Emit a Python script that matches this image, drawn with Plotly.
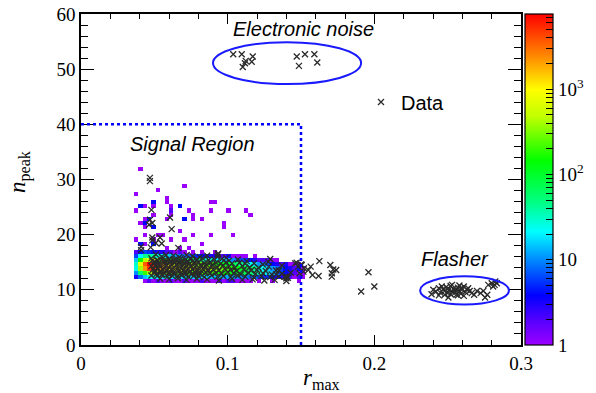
import numpy as np
import plotly.graph_objects as go

# ---------------- axes / binning ----------------
X_RANGE = [0, 0.3]
Y_RANGE = [0, 60]
X_TICKS = [0, 0.1, 0.2, 0.3]
X_TICKTEXT = ["0", "0.1", "0.2", "0.3"]
Y_TICKS = [0, 10, 20, 30, 40, 50, 60]
X_BIN = 0.003
Y_BIN = 0.75
COUNT_MAX = 7600

# ---------------- 2D histogram (signal-region band) ----------------
BAND_X0 = 0.036   # lower edge of first listed x bin
BAND_ROW_Y = [11.25, 12.0, 12.75, 13.5, 14.25, 15.0, 15.75, 16.5]
BAND_ROWS = [
    [0, 0, 1, 2, 1, 2, 1, 1, 2, 1, 1, 2, 1, 1, 1, 2, 1, 1, 1, 2, 1, 1, 2, 1, 1, 1, 1, 0, 1, 0, 0, 1, 0, 0, 0, 0, 0, 1, 0],
    [3, 8, 15, 25, 25, 22, 20, 20, 18, 18, 18, 17, 17, 16, 16, 15, 15, 14, 14, 13, 12, 12, 11, 10, 10, 9, 8, 7, 6, 5, 5, 4, 3, 3, 2, 2, 1, 1, 1],
    [10, 60, 200, 400, 420, 380, 340, 300, 280, 260, 250, 240, 230, 220, 210, 200, 190, 180, 170, 160, 150, 140, 120, 100, 85, 70, 55, 42, 32, 24, 18, 13, 9, 6, 4, 3, 2, 1, 1],
    [25, 400, 2200, 5000, 4500, 2800, 2000, 1500, 1200, 1000, 900, 800, 700, 620, 560, 500, 450, 400, 350, 300, 260, 220, 180, 140, 110, 85, 60, 42, 30, 22, 16, 11, 8, 6, 4, 3, 2, 2, 1],
    [30, 700, 3500, 7500, 6000, 3200, 1900, 1300, 950, 750, 600, 500, 420, 360, 310, 270, 230, 200, 170, 140, 115, 95, 75, 58, 44, 32, 23, 16, 11, 8, 6, 4, 3, 2, 2, 1, 1, 1, 0],
    [15, 150, 450, 650, 500, 320, 230, 170, 140, 110, 90, 75, 62, 52, 44, 37, 31, 26, 22, 18, 15, 12, 10, 8, 6, 5, 4, 3, 2, 2, 1, 1, 1, 0, 0, 0, 0, 0, 0],
    [6, 20, 45, 50, 40, 28, 22, 17, 14, 11, 9, 8, 7, 6, 5, 4, 4, 3, 3, 2, 2, 2, 1, 1, 1, 1, 0, 1, 0, 0, 0, 0, 0, 0, 0, 0, 0, 0, 0],
    [2, 4, 6, 5, 4, 3, 3, 2, 2, 1, 2, 1, 0, 1, 0, 1, 0, 0, 1, 0, 0, 0, 0, 0, 0, 0, 0, 0, 0, 0, 0, 0, 0, 0, 0, 0, 0, 0, 0],
]

# isolated histogram cells above / around the band
CELL_X = [0.041, 0.071, 0.037, 0.053, 0.059, 0.059, 0.040, 0.044, 0.050, 0.050,
          0.062, 0.062, 0.068, 0.073, 0.090, 0.093, 0.088, 0.101, 0.113, 0.116,
          0.037, 0.042, 0.047, 0.049, 0.058, 0.063, 0.071, 0.076, 0.076, 0.083,
          0.098, 0.040, 0.043, 0.048, 0.045, 0.068, 0.076, 0.104, 0.096, 0.056,
          0.044, 0.038, 0.050, 0.053, 0.063, 0.071, 0.089, 0.041, 0.048, 0.044,
          0.0595, 0.066, 0.082, 0.073, 0.1005, 0.1275, 0.138, 0.148, 0.149, 0.100]
CELL_Y = [31.6, 29.2, 27.5, 28.0, 26.8, 26.2, 25.1, 25.0, 25.7, 24.9,
          25.4, 24.5, 25.1, 24.3, 25.6, 25.6, 24.3, 24.3, 24.3, 23.6,
          24.3, 23.1, 23.0, 23.6, 22.5, 23.6, 22.7, 23.6, 23.0, 22.5,
          21.9, 22.0, 22.0, 21.4, 21.2, 20.8, 20.1, 20.2, 21.6, 20.1,
          19.9, 19.0, 19.0, 19.6, 19.0, 19.0, 19.5, 18.1, 18.1, 18.6,
          17.7, 17.7, 18.7, 17.3, 16.0, 15.2, 14.9, 14.2, 12.4, 11.7]
CELL_N = [1, 1, 1, 1, 1, 1, 4, 1, 4, 1,
          1, 2, 4, 1, 1, 1, 1, 1, 1, 1,
          1, 1, 4, 1, 1, 1, 4, 1, 1, 1,
          1, 1, 4, 4, 1, 1, 1, 1, 1, 1,
          1, 1, 1, 1, 1, 1, 1, 4, 4, 1,
          1, 1, 1, 1, 1, 1, 1, 2, 1, 1]

# ---------------- data points (x markers) ----------------
NOISE_X = [0.1038, 0.1096, 0.1171, 0.1123, 0.1164, 0.1118, 0.1103, 0.1471, 0.1527, 0.1591, 0.1611, 0.1486]
NOISE_Y = [52.7, 52.7, 52.3, 51.5, 51.35, 51.06, 50.4, 52.3, 52.7, 52.7, 51.2, 50.6]

OUTLIER_X = [0.047, 0.047, 0.048, 0.0607, 0.0618, 0.047, 0.0464, 0.0486, 0.0486, 0.0486,
             0.0539, 0.055, 0.041, 0.0475, 0.051, 0.0663, 0.041, 0.0932, 0.0936]
OUTLIER_Y = [30.3, 29.7, 24.5, 23.1, 21.0, 22.7, 21.8, 22.1, 19.5, 19.0,
             19.5, 18.4, 17.8, 17.7, 18.5, 17.6, 17.2, 16.4, 16.6]

BAND_PX = [
    0.051, 0.055, 0.058, 0.063, 0.067, 0.072, 0.076, 0.081, 0.086, 0.093, 0.099,
    0.048, 0.052, 0.056, 0.060, 0.064, 0.068, 0.071, 0.075, 0.079, 0.083, 0.087, 0.091, 0.096, 0.101, 0.107, 0.113,
    0.050, 0.053, 0.057, 0.061, 0.064, 0.067, 0.070, 0.073, 0.077, 0.080, 0.084, 0.088, 0.092, 0.095, 0.099, 0.103, 0.108, 0.112, 0.118, 0.124,
    0.048, 0.051, 0.054, 0.058, 0.061, 0.065, 0.069, 0.072, 0.075, 0.078, 0.082, 0.085, 0.089, 0.093, 0.097, 0.101, 0.105, 0.110, 0.115, 0.121, 0.128,
    0.049, 0.052, 0.056, 0.059, 0.062, 0.066, 0.070, 0.073, 0.076, 0.080, 0.083, 0.087, 0.090, 0.094, 0.098, 0.102, 0.106, 0.111, 0.116, 0.120, 0.126, 0.133,
    0.050, 0.054, 0.057, 0.060, 0.063, 0.067, 0.071, 0.074, 0.078, 0.081, 0.085, 0.088, 0.092, 0.096, 0.100, 0.104, 0.109, 0.114, 0.119, 0.124, 0.130, 0.137,
    0.048, 0.052, 0.055, 0.059, 0.062, 0.066, 0.069, 0.073, 0.077, 0.080, 0.084, 0.089, 0.093, 0.097, 0.102, 0.107, 0.112, 0.118, 0.123, 0.129, 0.135, 0.141,
    0.054, 0.060, 0.066, 0.072, 0.079, 0.086, 0.094, 0.103, 0.110, 0.117, 0.125, 0.132, 0.140,
    0.0495, 0.0535, 0.0575, 0.0615, 0.0655, 0.0695, 0.0735, 0.0775, 0.0815, 0.0855, 0.0895,
    0.0505, 0.0545, 0.0585, 0.0625, 0.0665, 0.0705, 0.0745, 0.0785, 0.0825, 0.0865,
    0.0485, 0.0525, 0.0565, 0.0605, 0.0645, 0.0685, 0.0725, 0.0765,
    0.0515, 0.0555, 0.0595, 0.0635, 0.0675, 0.0715, 0.0755, 0.0795,
]
BAND_PY = [
    16.4, 16.0, 16.3, 16.2, 15.9, 16.3, 16.1, 15.9, 16.2, 16.0, 15.8,
    15.7, 15.4, 15.8, 15.6, 15.5, 15.7, 15.4, 15.6, 15.5, 15.7, 15.4, 15.5, 15.6, 15.3, 15.5, 15.2,
    15.1, 14.8, 15.0, 15.1, 14.9, 15.0, 14.8, 15.1, 14.9, 15.0, 14.8, 15.0, 14.9, 14.7, 15.0, 14.8, 14.9, 14.7, 14.8, 14.6,
    14.3, 14.5, 14.2, 14.4, 14.3, 14.5, 14.2, 14.4, 14.3, 14.1, 14.4, 14.2, 14.3, 14.1, 14.4, 14.2, 14.0, 14.3, 14.1, 14.0, 14.2,
    13.7, 13.9, 13.6, 13.8, 13.7, 13.9, 13.6, 13.8, 13.7, 13.5, 13.8, 13.6, 13.7, 13.5, 13.8, 13.6, 13.4, 13.7, 13.5, 13.6, 13.4, 13.5,
    13.1, 13.3, 13.0, 13.2, 13.1, 13.3, 13.0, 13.2, 13.1, 12.9, 13.2, 13.0, 13.1, 12.9, 13.2, 13.0, 12.8, 13.1, 12.9, 13.0, 12.8, 12.9,
    12.6, 12.5, 12.7, 12.4, 12.6, 12.5, 12.7, 12.4, 12.6, 12.5, 12.3, 12.6, 12.4, 12.5, 12.3, 12.6, 12.4, 12.2, 12.5, 12.3, 12.4, 12.2,
    12.0, 11.9, 12.1, 11.8, 12.0, 11.9, 11.7, 12.0, 11.8, 11.9, 11.7, 11.8, 11.6,
    14.7, 14.6, 14.7, 14.6, 14.7, 14.5, 14.6, 14.7, 14.5, 14.6, 14.5,
    13.5, 13.4, 13.5, 13.4, 13.5, 13.3, 13.4, 13.5, 13.3, 13.4,
    15.3, 15.2, 15.3, 15.2, 15.3, 15.1, 15.2, 15.3,
    12.9, 12.8, 12.9, 12.8, 12.9, 12.7, 12.8, 12.9,
]

TAIL_X = [0.129, 0.1277, 0.146, 0.150, 0.148, 0.139, 0.140, 0.152, 0.149, 0.147,
          0.1505, 0.1516, 0.155, 0.1566, 0.1578, 0.162, 0.1625, 0.170, 0.172, 0.174,
          0.171, 0.171, 0.196, 0.200, 0.191, 0.140, 0.135, 0.143, 0.137, 0.133]
TAIL_Y = [15.6, 15.1, 14.8, 14.6, 14.2, 12.4, 12.1, 13.9, 13.0, 14.9,
          14.5, 13.3, 13.6, 14.2, 12.7, 12.5, 15.2, 14.5, 13.7, 13.6,
          13.0, 12.4, 13.2, 10.6, 9.7, 12.4, 13.5, 13.1, 14.4, 12.8]

FLASH_X = [0.2402, 0.239, 0.242, 0.244, 0.245, 0.247, 0.248, 0.249, 0.250, 0.251,
           0.252, 0.253, 0.254, 0.255, 0.256, 0.257, 0.258, 0.259, 0.260, 0.261,
           0.262, 0.263, 0.246, 0.250, 0.253, 0.255, 0.257, 0.259, 0.248, 0.252,
           0.2505, 0.256, 0.261, 0.265, 0.2664, 0.270, 0.2725, 0.2743, 0.2755, 0.277,
           0.2777, 0.280, 0.282, 0.2835, 0.281, 0.2825, 0.244, 0.258, 0.264, 0.268]
FLASH_Y = [10.0, 9.2, 9.7, 10.3, 9.5, 10.1, 9.8, 10.5, 9.4, 10.0,
           10.7, 9.7, 10.2, 9.5, 10.0, 10.4, 9.8, 9.3, 10.1, 10.6,
           9.6, 10.0, 10.6, 10.2, 10.9, 9.9, 9.0, 10.3, 9.1, 9.2,
           8.6, 9.1, 8.9, 9.8, 9.4, 9.8, 9.4, 9.8, 8.6, 9.1,
           10.9, 11.2, 10.9, 11.2, 10.6, 11.5, 9.0, 10.8, 10.3, 9.1]

# ---------------- region markings ----------------
SIGNAL_XMAX = 0.15
SIGNAL_YMAX = 40
ELLIPSE_CX = [0.1405, 0.2615]
ELLIPSE_CY = [51.1, 9.9]
ELLIPSE_RX = [0.0505, 0.0303]
ELLIPSE_RY = [3.8, 2.55]
LABELS = ["Electronic noise", "Signal Region", "Flasher"]
LABEL_X = [0.1514, 0.0757, 0.255]
LABEL_Y = [57.3, 36.4, 15.6]

# ---------------- build histogram grid ----------------
nx = int(round((X_RANGE[1] - X_RANGE[0]) / X_BIN))
ny = int(round((Y_RANGE[1] - Y_RANGE[0]) / Y_BIN))
counts = np.zeros((ny, nx))
i0 = int(round(BAND_X0 / X_BIN))
for yl, row in zip(BAND_ROW_Y, BAND_ROWS):
    j = int(round(yl / Y_BIN))
    for k, c in enumerate(row):
        counts[j, i0 + k] += c
for cx, cy, cn in zip(CELL_X, CELL_Y, CELL_N):
    counts[int(cy // Y_BIN), int(cx // X_BIN)] += cn
z = np.where(counts > 0, np.log10(np.where(counts > 0, counts, 1)), np.nan)
xc = (np.arange(nx) + 0.5) * X_BIN
yc = (np.arange(ny) + 0.5) * Y_BIN

zmax = np.log10(COUNT_MAX)
CS = [[0.0, "#9a00ff"], [0.07, "#5a00ff"], [0.15, "#0000ff"], [0.25, "#0080ff"],
      [0.343, "#00ffff"], [0.434, "#00ff80"], [0.556, "#00ff00"], [0.69, "#c0ff00"],
      [0.77, "#ffff00"], [0.87, "#ff8c00"], [1.0, "#ff0000"]]

cb_vals, cb_text = [], []
for k in range(4):
    for m in range(1, 10):
        v = m * 10 ** k
        if v > COUNT_MAX:
            break
        cb_vals.append(np.log10(v))
        if m == 1:
            cb_text.append("1" if k == 0 else ("10" if k == 1 else "10<sup>%d</sup>" % k))
        else:
            cb_text.append("")

fig = go.Figure()
fig.add_trace(go.Heatmap(
    x=xc, y=yc, z=z, zmin=0, zmax=zmax, colorscale=CS, hoverongaps=False,
    showscale=True,
    colorbar=dict(x=(525 - 81) / 440, xanchor="left", xpad=0, ypad=0,
                  y=0.5, yanchor="middle", len=1, lenmode="fraction",
                  thickness=28, thicknessmode="pixels",
                  outlinewidth=1.2, outlinecolor="black",
                  tickmode="array", tickvals=cb_vals, ticktext=cb_text,
                  ticks="inside", ticklen=7, tickwidth=1.2, tickcolor="black",
                  tickfont=dict(family="Liberation Serif", size=19, color="black")),
    showlegend=False,
))

all_x = NOISE_X + OUTLIER_X + BAND_PX + TAIL_X + FLASH_X
all_y = NOISE_Y + OUTLIER_Y + BAND_PY + TAIL_Y + FLASH_Y
fig.add_trace(go.Scatter(
    x=all_x, y=all_y, mode="markers", name="Data",
    marker=dict(symbol="x-thin", size=6, line=dict(width=1.3, color="#2a2a2a")),
    showlegend=True,
))

shapes = [
    dict(type="line", xref="x", yref="y", x0=X_RANGE[0], x1=SIGNAL_XMAX, y0=SIGNAL_YMAX, y1=SIGNAL_YMAX,
         line=dict(color="#0000ff", width=2.5, dash="3px,3px")),
    dict(type="line", xref="x", yref="y", x0=SIGNAL_XMAX, x1=SIGNAL_XMAX, y0=Y_RANGE[0], y1=SIGNAL_YMAX,
         line=dict(color="#0000ff", width=2.5, dash="3px,3px")),
]
for cx, cy, rx, ry in zip(ELLIPSE_CX, ELLIPSE_CY, ELLIPSE_RX, ELLIPSE_RY):
    shapes.append(dict(type="circle", xref="x", yref="y", x0=cx - rx, x1=cx + rx,
                       y0=cy - ry, y1=cy + ry, line=dict(color="#1a1aff", width=2)))

annotations = []
for t, lx, ly in zip(LABELS, LABEL_X, LABEL_Y):
    annotations.append(dict(text="<i>%s</i>" % t, x=lx, y=ly, xref="x", yref="y",
                            showarrow=False, xanchor="center", yanchor="middle",
                            font=dict(family="Liberation Sans", size=20, color="black")))
annotations.append(dict(text="<i>r</i><sub>max</sub>", x=(321 - 81) / 440, y=(345 - 379) / 331,
                        xref="paper", yref="paper", showarrow=False, xanchor="center", yanchor="middle",
                        font=dict(family="Liberation Serif", size=23, color="black")))
annotations.append(dict(text="<i>n</i><sub>peak</sub>", x=(19 - 81) / 440, y=(345 - 172) / 331,
                        xref="paper", yref="paper", showarrow=False, xanchor="center", yanchor="middle",
                        textangle=-90,
                        font=dict(family="Liberation Serif", size=23, color="black")))

axis_common = dict(showline=True, linecolor="black", linewidth=1.5, mirror="ticks",
                   ticks="inside", tickwidth=1.3, tickcolor="black",
                   showgrid=False, zeroline=False,
                   tickfont=dict(family="Liberation Serif", size=19, color="black"))
fig.update_xaxes(range=X_RANGE, tickmode="array", tickvals=X_TICKS, ticktext=X_TICKTEXT, ticklen=10,
                 minor=dict(ticks="inside", ticklen=5, tickwidth=1.2, tickcolor="black",
                            tick0=0, dtick=0.02, showgrid=False),
                 **axis_common)
fig.update_yaxes(range=Y_RANGE, tickmode="array", tickvals=Y_TICKS, ticklen=13,
                 minor=dict(ticks="inside", ticklen=7, tickwidth=1.2, tickcolor="black",
                            tick0=0, dtick=2, showgrid=False),
                 **axis_common)

fig.update_layout(
    width=596, height=393,
    margin=dict(l=81, r=75, t=14, b=48, autoexpand=False),
    paper_bgcolor="white", plot_bgcolor="white",
    shapes=shapes, annotations=annotations,
    showlegend=True,
    legend=dict(x=(361 - 81) / 440, y=(345 - 102) / 331, xanchor="left", yanchor="middle",
                bgcolor="rgba(0,0,0,0)", borderwidth=0,
                font=dict(family="Liberation Sans", size=20, color="black")),
)

fig.write_html("out.html")
